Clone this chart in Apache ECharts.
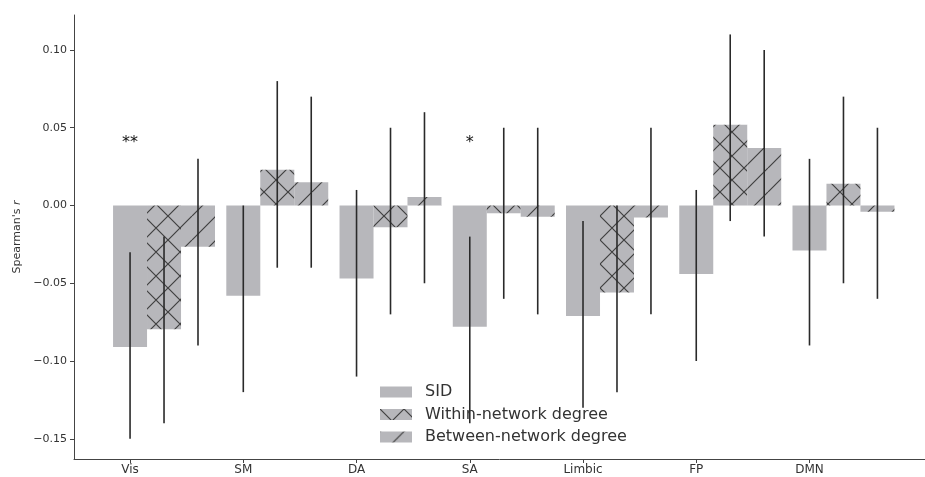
<!DOCTYPE html>
<html>
<head>
<meta charset="utf-8">
<script src="https://cdn.jsdelivr.net/npm/echarts@6/dist/echarts.min.js"></script>
<style>
  html, body { margin: 0; padding: 0; background: #fff; }
  #chart { width: 925px; height: 477px; }
</style>
</head>
<body>
<div id="chart"></div>
<script>
// networks on the x axis
const categories = ['Vis', 'SM', 'DA', 'SA', 'Limbic', 'FP', 'DMN'];
const seriesNames = ['SID', 'Within-network degree', 'Between-network degree'];

// bar heights (Spearman's r)
const sid     = [-0.091, -0.058, -0.047, -0.078, -0.071, -0.044, -0.029];
const within  = [-0.0795, 0.023, -0.014, -0.005, -0.056, 0.052, 0.014];
const between = [-0.0265, 0.015, 0.0055, -0.0072, -0.0077, 0.037, -0.004];

// error bar ends
const sidLow      = [-0.150, -0.120, -0.110, -0.140, -0.130, -0.100, -0.090];
const sidHigh     = [-0.030, 0.000, 0.010, -0.020, -0.010, 0.010, 0.030];
const withinLow   = [-0.140, -0.040, -0.070, -0.060, -0.120, -0.010, -0.050];
const withinHigh  = [-0.020, 0.080, 0.050, 0.050, 0.000, 0.110, 0.070];
const betweenLow  = [-0.090, -0.040, -0.050, -0.070, -0.070, -0.020, -0.060];
const betweenHigh = [0.030, 0.070, 0.060, 0.050, 0.050, 0.100, 0.050];

// significance marks
const starPos = [0, 3];
const starY = [0.040, 0.040];
const starText = ['**', '*'];

const yTicks = [-0.15, -0.10, -0.05, 0.00, 0.05, 0.10];

const barGray = '#b7b7bb';
const hatchColor = '#404040';
const offset = 0.3;
const font = '"DejaVu Sans", sans-serif';

// hatch fill like matplotlib 'x' and '/'
function hatch(kind) {
    const P = 24;
    const c = document.createElement('canvas');
    c.width = P; c.height = P;
    const g = c.getContext('2d');
    g.fillStyle = barGray;
    g.fillRect(0, 0, P, P);
    g.strokeStyle = hatchColor;
    g.lineWidth = 1.2;
    g.beginPath();
    for (let k = -1; k <= 1; k++) {
        g.moveTo(k * P, P); g.lineTo(k * P + P, 0);
        if (kind === 'x') { g.moveTo(k * P, 0); g.lineTo(k * P + P, P); }
    }
    g.stroke();
    return c;
}

const fills = [barGray, { image: hatch('x'), repeat: 'repeat' }, { image: hatch('/'), repeat: 'repeat' }];
const values = [sid, within, between];
const lows = [sidLow, withinLow, betweenLow];
const highs = [sidHigh, withinHigh, betweenHigh];

const barSeries = values.map((vals, s) => ({
    name: seriesNames[s],
    type: 'bar',
    barWidth: 34,
    barGap: '-100%',
    itemStyle: { color: fills[s] },
    z: 2,
    data: vals.map((v, i) => [i + s * offset, v])
}));

const errData = [];
lows.forEach((lo, s) => lo.forEach((v, i) => errData.push([i + s * offset, v, highs[s][i]])));

const chart = echarts.init(document.getElementById('chart'));
chart.setOption({
    animation: false,
    backgroundColor: '#fff',
    grid: { left: 74, right: 0, top: 15, bottom: 18, outerBoundsMode: 'none' },
    legend: {
        data: seriesNames,
        orient: 'vertical',
        left: 380,
        top: 384,
        padding: 0,
        icon: 'rect',
        itemWidth: 32,
        itemHeight: 11,
        itemGap: 6.5,
        textStyle: { fontFamily: font, fontSize: 16, color: '#333', padding: [0, 0, 0, 8] }
    },
    xAxis: {
        type: 'value',
        min: -0.495,
        max: 7.02,
        splitLine: { show: false },
        axisLine: { show: true, onZero: false, lineStyle: { color: '#444', width: 1 } },
        axisTick: { show: true, length: 4, customValues: categories.map((c, i) => i), lineStyle: { color: '#444' } },
        axisLabel: {
            customValues: categories.map((c, i) => i),
            formatter: v => categories[Math.round(v)],
            fontFamily: font, fontSize: 12, color: '#333', margin: 5
        }
    },
    yAxis: {
        type: 'value',
        min: -0.163,
        max: 0.1225,
        name: "Spearman's {i|r}",
        nameLocation: 'middle',
        nameGap: 51,
        nameTextStyle: {
            fontFamily: font, fontSize: 11, color: '#333',
            rich: { i: { fontFamily: font, fontSize: 11, fontStyle: 'italic', color: '#333' } }
        },
        splitLine: { show: false },
        axisLine: { show: true, onZero: false, lineStyle: { color: '#444', width: 1 } },
        axisTick: { show: true, length: 4, customValues: yTicks, lineStyle: { color: '#444' } },
        axisLabel: {
            customValues: yTicks,
            formatter: v => (v < -1e-9 ? '\u2212' : '') + Math.abs(v).toFixed(2),
            fontFamily: font, fontSize: 11, color: '#333', margin: 7
        }
    },
    series: barSeries.concat([
        {
            type: 'custom',
            name: 'err',
            z: 5,
            data: errData,
            renderItem: (params, api) => {
                const a = api.coord([api.value(0), api.value(1)]);
                const b = api.coord([api.value(0), api.value(2)]);
                return {
                    type: 'line',
                    shape: { x1: a[0], y1: a[1], x2: b[0], y2: b[1] },
                    style: { stroke: '#2a2a2a', lineWidth: 1.6 }
                };
            }
        },
        {
            type: 'custom',
            name: 'stars',
            z: 6,
            data: starPos.map((x, i) => [x, starY[i]]),
            renderItem: (params, api) => {
                const p = api.coord([api.value(0), api.value(1)]);
                return {
                    type: 'text',
                    x: p[0], y: p[1],
                    style: {
                        text: starText[params.dataIndex],
                        fontFamily: font, fontSize: 16, fill: '#111',
                        align: 'center', verticalAlign: 'middle'
                    }
                };
            }
        }
    ])
});
</script>
</body>
</html>
